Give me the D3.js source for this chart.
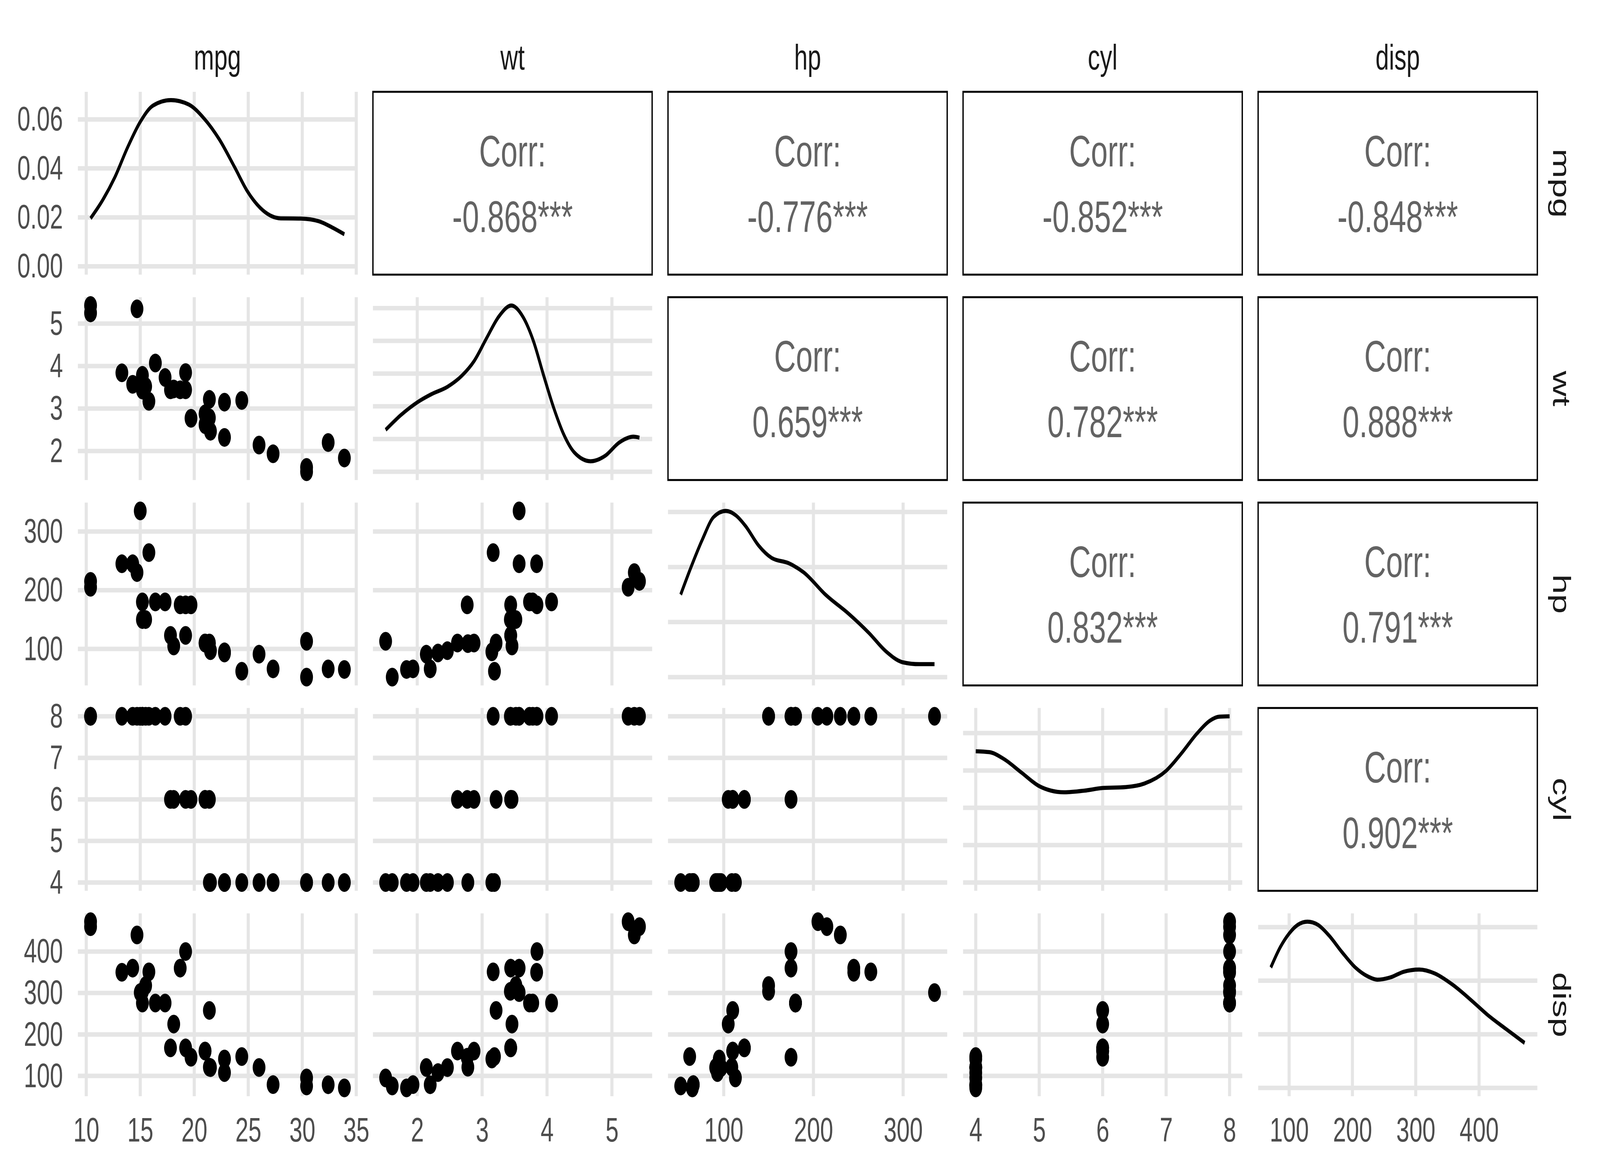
<!DOCTYPE html>
<html>
<head>
<meta charset="utf-8">
<script src="https://cdn.jsdelivr.net/npm/d3@7"></script>
<style>
  html, body { margin: 0; padding: 0; background: #ffffff; overflow: hidden; }
  svg { display: block; width: 100vw; height: 100vh; }
</style>
</head>
<body>
<svg id="chart" viewBox="0 0 6000 3000" preserveAspectRatio="none"></svg>
<script>
// ---------------- data (mtcars) ----------------
const vars = ["mpg", "wt", "hp", "cyl", "disp"];
const mpg  = [21, 21, 22.8, 21.4, 18.7, 18.1, 14.3, 24.4, 22.8, 19.2, 17.8, 16.4, 17.3, 15.2, 10.4, 10.4, 14.7, 32.4, 30.4, 33.9, 21.5, 15.5, 15.2, 13.3, 19.2, 27.3, 26, 30.4, 15.8, 19.7, 15, 21.4];
const wt   = [2.62, 2.875, 2.32, 3.215, 3.44, 3.46, 3.57, 3.19, 3.15, 3.44, 3.44, 4.07, 3.73, 3.78, 5.25, 5.424, 5.345, 2.2, 1.615, 1.835, 2.465, 3.52, 3.435, 3.84, 3.845, 1.935, 2.14, 1.513, 3.17, 2.77, 3.57, 2.78];
const hp   = [110, 110, 93, 110, 175, 105, 245, 62, 95, 123, 123, 180, 180, 180, 205, 215, 230, 66, 52, 65, 97, 150, 150, 245, 175, 66, 91, 113, 264, 175, 335, 109];
const cyl  = [6, 6, 4, 6, 8, 6, 8, 4, 4, 6, 6, 8, 8, 8, 8, 8, 8, 4, 4, 4, 4, 8, 8, 8, 8, 4, 4, 4, 8, 6, 8, 4];
const disp = [160, 160, 108, 258, 360, 225, 360, 146.7, 140.8, 167.6, 167.6, 275.8, 275.8, 275.8, 472, 460, 440, 78.7, 75.7, 71.1, 120.1, 318, 304, 350, 400, 79, 120.3, 95.1, 351, 145, 301, 121];

// density curves on the diagonal
const mpgDensX  = [10.4, 11.46, 12.64, 13.82, 15.01, 16.19, 17.84, 19.49, 20.91, 22.33, 23.75, 24.93, 26.35, 28.0, 29.89, 31.54, 32.72, 33.9];
const mpgDensY  = [0.0196, 0.0266, 0.0363, 0.0485, 0.0591, 0.0657, 0.0679, 0.0661, 0.0604, 0.0518, 0.0404, 0.0306, 0.0229, 0.0196, 0.0195, 0.0184, 0.0160, 0.0131];
const wtDensX   = [1.513, 1.747, 2.0, 2.219, 2.47, 2.69, 2.879, 3.068, 3.256, 3.451, 3.633, 3.791, 3.948, 4.105, 4.262, 4.42, 4.671, 4.891, 5.111, 5.331, 5.424];
const wtDensY   = [0.128, 0.173, 0.212, 0.237, 0.260, 0.294, 0.339, 0.408, 0.474, 0.508, 0.472, 0.399, 0.294, 0.194, 0.112, 0.059, 0.032, 0.048, 0.089, 0.107, 0.104];
const hpDensX   = [52, 63.8, 76.3, 88.8, 102.4, 113.8, 124.3, 138.9, 153.5, 172.3, 189.0, 214.0, 239.0, 262.0, 280.7, 299.5, 318.3, 335];
const hpDensY   = [0.0030, 0.00402, 0.00501, 0.00582, 0.00604, 0.00587, 0.00549, 0.00478, 0.00433, 0.00414, 0.00381, 0.00298, 0.00231, 0.0016, 0.00094, 0.00054, 0.00047, 0.00047];
const cylDensX  = [4, 4.215, 4.45, 4.715, 5.0, 5.185, 5.39, 5.716, 6.0, 6.364, 6.658, 7.0, 7.247, 7.482, 7.688, 7.835, 8];
const cylDensY  = [0.3515, 0.349, 0.330, 0.295, 0.258, 0.246, 0.2415, 0.246, 0.253, 0.2555, 0.265, 0.299, 0.347, 0.398, 0.433, 0.444, 0.445];
const dispDensX = [71.1, 86.1, 100, 113.9, 128.9, 145.3, 162.7, 183.6, 204.5, 225.4, 239.4, 260.3, 281.2, 305.6, 330.0, 357.8, 392.7, 413.6, 441.5, 472];
const dispDensY = [0.002247, 0.002627, 0.00288, 0.003044, 0.003101, 0.003044, 0.002848, 0.002532, 0.002247, 0.002073, 0.002019, 0.002063, 0.002168, 0.002209, 0.002136, 0.00193, 0.001582, 0.001361, 0.001108, 0.000839];

// tick values
const mpgTicks  = [10, 15, 20, 25, 30, 35];
const wtTicks   = [2, 3, 4, 5];
const hpTicks   = [100, 200, 300];
const cylTicks  = [4, 5, 6, 7, 8];
const dispTicks = [100, 200, 300, 400];
const mpgDensTicks  = [0, 0.02, 0.04, 0.06];
const wtDensTicks   = [0, 0.1, 0.2, 0.3, 0.4, 0.5];
const hpDensTicks   = [0, 0.002, 0.004, 0.006];
const cylDensTicks  = [0, 0.1, 0.2, 0.3, 0.4];
const dispDensTicks = [0, 0.001, 0.002, 0.003];

// correlation labels (upper triangle, row by row)
const corrLabels = ["-0.868***", "-0.776***", "-0.852***", "-0.848***",
                    "0.659***", "0.782***", "0.888***",
                    "0.832***", "0.791***",
                    "0.902***"];

// ---------------- lookup tables built from the arrays ----------------
const columns = { mpg, wt, hp, cyl, disp };
const tickSets = { mpg: mpgTicks, wt: wtTicks, hp: hpTicks, cyl: cylTicks, disp: dispTicks };
const densities = {
  mpg:  { x: mpgDensX,  y: mpgDensY,  ticks: mpgDensTicks },
  wt:   { x: wtDensX,   y: wtDensY,   ticks: wtDensTicks },
  hp:   { x: hpDensX,   y: hpDensY,   ticks: hpDensTicks },
  cyl:  { x: cylDensX,  y: cylDensY,  ticks: cylDensTicks },
  disp: { x: dispDensX, y: dispDensY, ticks: dispDensTicks }
};

// ---------------- layout (in a 6000 x 3000 design space) ----------------
const W = 1047, H = 468;
const X0 = 292, Y0 = 235, DX = 1106.5, DY = 525.75;
const n = vars.length;
const FONT = "'Liberation Sans', Arial, Helvetica, sans-serif";
const GRID = "#E5E5E5";

function expand(ext) { const d = (ext[1] - ext[0]) * 0.05; return [ext[0] - d, ext[1] + d]; }

const xScales = vars.map((v, j) => d3.scaleLinear()
  .domain(expand(d3.extent(columns[v]))).range([X0 + j * DX, X0 + j * DX + W]));
const yScales = vars.map((v, i) => d3.scaleLinear()
  .domain(expand(d3.extent(columns[v]))).range([Y0 + i * DY + H, Y0 + i * DY]));
const dScales = vars.map((v, i) => d3.scaleLinear()
  .domain(expand([0, d3.max(densities[v].y)])).range([Y0 + i * DY + H, Y0 + i * DY]));

const svg = d3.select("#chart");
svg.append("rect").attr("width", 6000).attr("height", 3000).attr("fill", "#ffffff");

const gridG = svg.append("g");
const markG = svg.append("g");
const corrG = svg.append("g");

let corrIdx = 0;
for (let i = 0; i < n; i++) {
  for (let j = 0; j < n; j++) {
    const px = X0 + j * DX, py = Y0 + i * DY;
    const vx = vars[j], vy = vars[i];
    if (i < j) {
      corrG.append("rect")
        .attr("x", px).attr("y", py).attr("width", W).attr("height", H)
        .attr("fill", "none").attr("stroke", "#000").attr("stroke-width", 5);
      const cx = px + W / 2, cy = py + H / 2;
      const lines = ["Corr:", corrLabels[corrIdx++]];
      corrG.selectAll(null).data(lines).enter().append("text")
        .attr("x", cx).attr("y", (d, k) => cy + (k === 0 ? -84 : 84))
        .attr("dy", "0.36em")
        .attr("text-anchor", "middle")
        .attr("font-family", FONT).attr("font-size", 113)
        .attr("fill", "#636363")
        .text(d => d);
      continue;
    }
    const xs = xScales[j];
    const ys = (i === j) ? dScales[i] : yScales[i];
    const yTicks = (i === j) ? densities[vy].ticks : tickSets[vy];
    gridG.selectAll(null).data(yTicks).enter().append("line")
      .attr("x1", px).attr("x2", px + W)
      .attr("y1", d => ys(d)).attr("y2", d => ys(d))
      .attr("stroke", GRID).attr("stroke-width", 11.5);
    gridG.selectAll(null).data(tickSets[vx]).enter().append("line")
      .attr("y1", py).attr("y2", py + H)
      .attr("x1", d => xs(d)).attr("x2", d => xs(d))
      .attr("stroke", GRID).attr("stroke-width", 11.5);
    if (i === j) {
      const dd = densities[vx];
      const pts = dd.x.map((x, k) => [x, dd.y[k]]);
      markG.append("path")
        .datum(pts)
        .attr("d", d3.line().x(d => xs(d[0])).y(d => ys(d[1])).curve(d3.curveMonotoneX))
        .attr("fill", "none").attr("stroke", "#000").attr("stroke-width", 10.5)
        .attr("stroke-linejoin", "round");
    } else {
      const xv = columns[vx], yv = columns[vy];
      markG.selectAll(null).data(d3.range(xv.length)).enter().append("circle")
        .attr("cx", k => xs(xv[k])).attr("cy", k => ys(yv[k]))
        .attr("r", 24).attr("fill", "#000");
    }
  }
}

// ---------------- axes ----------------
function styleAxis(g) {
  g.select(".domain").remove();
  g.selectAll(".tick line").remove();
  g.attr("font-family", FONT).attr("font-size", 88);
  g.selectAll("text").attr("fill", "#4D4D4D");
}
const fmtInt = d3.format("d");
const fmtDens = d3.format(".2f");
for (let i = 0; i < n; i++) {
  const scale = i === 0 ? dScales[0] : yScales[i];
  const tv = i === 0 ? densities[vars[0]].ticks : tickSets[vars[i]];
  svg.append("g").attr("transform", `translate(${X0},0)`)
    .call(d3.axisLeft(scale).tickValues(tv).tickSize(0).tickPadding(56)
      .tickFormat(i === 0 ? fmtDens : fmtInt))
    .call(styleAxis);
}
const bottomY = Y0 + (n - 1) * DY + H;
for (let j = 0; j < n; j++) {
  svg.append("g").attr("transform", `translate(0,${bottomY})`)
    .call(d3.axisBottom(xScales[j]).tickValues(tickSets[vars[j]]).tickSize(0).tickPadding(54)
      .tickFormat(fmtInt))
    .call(styleAxis);
}

// ---------------- strip labels ----------------
svg.append("g").selectAll("text").data(vars).enter().append("text")
  .attr("x", (d, j) => X0 + j * DX + W / 2).attr("y", 178)
  .attr("text-anchor", "middle")
  .attr("font-family", FONT).attr("font-size", 91).attr("fill", "#1A1A1A")
  .text(d => d);
svg.append("g").selectAll("text").data(vars).enter().append("text")
  .attr("transform", (d, i) => `translate(5824,${Y0 + i * DY + H / 2}) rotate(90)`)
  .attr("text-anchor", "middle")
  .attr("font-family", FONT).attr("font-size", 91).attr("fill", "#1A1A1A")
  .text(d => d);
</script>
</body>
</html>
